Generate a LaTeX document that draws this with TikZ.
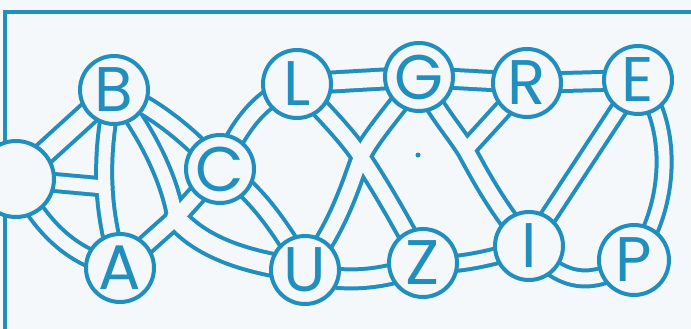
\documentclass[tikz,border=0pt]{standalone}
\usepackage{fontspec}
\setmainfont{Poppins}
\definecolor{ink}{RGB}{32,143,190}
\definecolor{paper}{RGB}{245,248,250}
\pgfdeclarelayer{back}
\pgfsetlayers{back,main}
\newcommand\tubenet{%
  \draw[tube=18] (O.center) -- (B.center);
  \draw[tube=13] (O.center) -- (S);
  \draw[tube=12] (B.center) .. controls (100,150) and (100,210) .. (A.center);
  \draw[tube=13] (O.center) .. controls (40,225) and (70,258) .. (A.center);
  \draw[tube=14] (B.center) .. controls (155,108) and (185,132) .. (C.center);
  \draw[tube=13] (B.center) .. controls (160,150) and (172,195) .. (J);
  \draw[tube=18] (J) .. controls (200,245) and (240,262) .. (U.center);
  \draw[tube=14] (A.center) -- (J) -- (C.center);
  \draw[tube=14] (C.center) .. controls (238,128) and (258,98) .. (L.center);
  \draw[tube=14] (C.center) .. controls (250,185) and (280,225) .. (U.center);
  \draw[tube=15] (L.center) -- (G.center);
  \draw[tube=14] (L.center) .. controls (330,118) and (350,140) .. (X) .. controls (380,185) and (400,220) .. (Z.center);
  \draw[tube=14] (G.center) .. controls (395,110) and (372,135) .. (X) .. controls (352,180) and (340,225) .. (U.center);
  \draw[tube=15] (U.center) .. controls (335,285) and (390,280) .. (Z.center);
  \draw[tube=14] (G.center) -- (R.center);
  \draw[tube=14] (R.center) -- (E.center);
  \draw[tube=14] (G.center) .. controls (435,110) and (452,128) .. (K) .. controls (480,175) and (495,205) .. (I.center);
  \draw[tube=13] (R.center) -- (K);
  \draw[tube=12] (I.center) -- (E.center);
  \draw[tube=11] (E.center) .. controls (672,120) and (675,200) .. (P.center);
  \draw[tube=11] (Z.center) .. controls (450,268) and (495,258) .. (I.center);
  \draw[tube=12] (I.center) .. controls (560,282) and (590,290) .. (P.center);
}
\begin{document}
\begin{tikzpicture}[x=1pt,y=-1pt,
  ball/.style={circle,draw=ink,line width=4pt,fill=paper,minimum size=68pt,inner sep=0pt,text=ink,font=\fontsize{63}{63}\selectfont},
  tube/.style={line width={(#1+\tubeadd)*1pt},draw=\tubecol,line cap=round,line join=round},
  frame/.style={draw=ink,line width=4pt}]
\useasboundingbox (0,0) rectangle (691,329);
\node[ball,minimum size=76pt] (O) at (16,179) {};
\node[ball] (B) at (114,90) {B};
\node[ball] (C) at (220,169) {C};
\node[ball] (A) at (120,268) {A};
\node[ball] (L) at (297,84) {L};
\node[ball] (G) at (419,77) {G};
\node[ball] (R) at (527,83) {R};
\node[ball] (E) at (638,80) {E};
\node[ball] (U) at (305,270) {U};
\node[ball] (Z) at (423,263) {Z};
\node[ball] (I) at (529,246) {I};
\node[ball,minimum size=70pt] (P) at (634,260) {P};
\coordinate (S) at (104,187);
\coordinate (J) at (176,218);
\coordinate (X) at (361,157);
\coordinate (K) at (466,150);
\coordinate (FL) at (5,340);
\coordinate (FC) at (5,12);
\coordinate (FR) at (700,12);
\coordinate (D) at (418,155);
\begin{pgfonlayer}{back}
  \fill[paper] (0,0) rectangle (691,329);
  \draw[frame] (FL) -- (FC) -- (FR);
  \def\tubeadd{8}\def\tubecol{ink}\tubenet
  \def\tubeadd{0}\def\tubecol{paper}\tubenet
  \fill[ink] (D) circle (2.5pt);
\end{pgfonlayer}
\end{tikzpicture}
\end{document}
